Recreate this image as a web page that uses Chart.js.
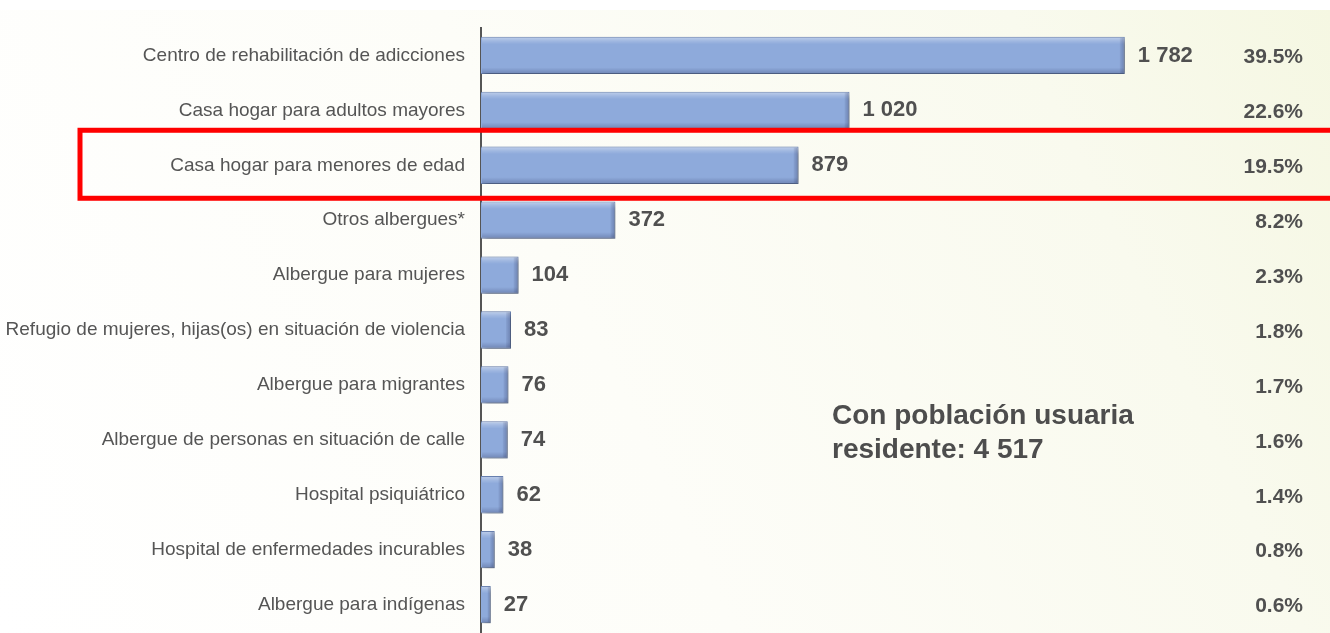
<!DOCTYPE html>
<html>
<head>
<meta charset="utf-8">
<script src="https://cdn.jsdelivr.net/npm/chart.js@4.4.1/dist/chart.umd.min.js"></script>
<style>
  html, body { margin: 0; padding: 0; background: #ffffff; }
  #wrap { position: relative; width: 1330px; height: 633px; }
</style>
</head>
<body>
<div id="wrap"><canvas id="c" width="1330" height="633"></canvas></div>
<script>
const categories = [
  "Centro de rehabilitación de adicciones",
  "Casa hogar para adultos mayores",
  "Casa hogar para menores de edad",
  "Otros albergues*",
  "Albergue para mujeres",
  "Refugio de mujeres, hijas(os) en situación de violencia",
  "Albergue para migrantes",
  "Albergue de personas en situación de calle",
  "Hospital psiquiátrico",
  "Hospital de enfermedades incurables",
  "Albergue para indígenas"
];
const values = [1782, 1020, 879, 372, 104, 83, 76, 74, 62, 38, 27];
const percentLabels = ["39.5%", "22.6%", "19.5%", "8.2%", "2.3%", "1.8%", "1.7%", "1.6%", "1.4%", "0.8%", "0.6%"];
const noteLines = ["Con población usuaria", "residente: 4 517"];
const highlightIndex = 2;

const FONT = "'Liberation Sans', Arial, Helvetica, sans-serif";

function fmt(n) {
  return String(n).replace(/\B(?=(\d{3})+(?!\d))/g, " ");
}

const bgPlugin = {
  id: 'bg',
  beforeDraw(chart) {
    const ctx = chart.ctx;
    const w = chart.width, h = chart.height;
    ctx.save();
    ctx.fillStyle = '#ffffff';
    ctx.fillRect(0, 0, w, h);
    const g = ctx.createLinearGradient(0, h, w, 0);
    g.addColorStop(0, '#ffffff');
    g.addColorStop(0.45, '#fdfdf8');
    g.addColorStop(0.8, '#f9faee');
    g.addColorStop(1, '#f5f7e2');
    ctx.fillStyle = g;
    ctx.fillRect(0, 10, w, h - 10);
    ctx.restore();
  }
};

const shadowPlugin = {
  id: 'barShadow',
  beforeDatasetDraw(chart) {
    const ctx = chart.ctx;
    ctx.save();
    ctx.shadowColor = 'rgba(0,0,0,0.35)';
    ctx.shadowOffsetX = 3;
    ctx.shadowOffsetY = 3;
    ctx.shadowBlur = 5;
  },
  afterDatasetDraw(chart) {
    const ctx = chart.ctx;
    ctx.restore();
    const meta = chart.getDatasetMeta(0);
    ctx.save();
    meta.data.forEach((bar) => {
      const left = bar.base, right = bar.x;
      const top = bar.y - bar.height / 2, bot = bar.y + bar.height / 2;
      const w = right - left, h = bot - top;
      if (w <= 0) return;
      const g = ctx.createLinearGradient(0, top, 0, bot);
      g.addColorStop(0, 'rgba(255,255,255,0.45)');
      g.addColorStop(0.12, 'rgba(255,255,255,0.15)');
      g.addColorStop(0.2, 'rgba(255,255,255,0)');
      g.addColorStop(0.82, 'rgba(0,0,40,0)');
      g.addColorStop(1, 'rgba(0,0,40,0.22)');
      ctx.fillStyle = g;
      ctx.fillRect(left + 1, top + 1, w - 2, h - 2);
      const bw = Math.min(5, w / 3);
      const g2 = ctx.createLinearGradient(right - bw, 0, right, 0);
      g2.addColorStop(0, 'rgba(0,0,40,0.05)');
      g2.addColorStop(1, 'rgba(0,0,40,0.25)');
      ctx.fillStyle = g2;
      ctx.fillRect(right - bw, top + 1, bw - 1, h - 2);
    });
    ctx.restore();
  }
};

const labelsPlugin = {
  id: 'labels',
  afterDatasetsDraw(chart) {
    const ctx = chart.ctx;
    const meta = chart.getDatasetMeta(0);
    const ys = chart.scales.y;
    ctx.save();
    ctx.fillStyle = '#505050';
    ctx.textBaseline = 'middle';
    meta.data.forEach((bar, i) => {
      ctx.textAlign = 'left';
      ctx.font = 'bold 22px ' + FONT;
      ctx.fillText(fmt(values[i]), bar.x + 13, bar.y);
      ctx.textAlign = 'right';
      ctx.font = 'bold 21px ' + FONT;
      ctx.fillText(percentLabels[i], 1303, ys.getPixelForValue(i) + 2);
    });
    ctx.textAlign = 'left';
    ctx.font = 'bold 28px ' + FONT;
    ctx.fillStyle = '#4d4d4d';
    ctx.fillText(noteLines[0], 832, ys.getPixelForValue(6) + 31);
    ctx.fillText(noteLines[1], 832, ys.getPixelForValue(7) + 10);
    const cy = ys.getPixelForValue(highlightIndex);
    ctx.strokeStyle = '#ff0000';
    ctx.lineWidth = 5;
    ctx.strokeRect(80, cy - 35, 1290, 68);
    ctx.restore();
  }
};

const ctx = document.getElementById('c').getContext('2d');
new Chart(ctx, {
  type: 'bar',
  data: {
    labels: categories,
    datasets: [{
      data: values,
      backgroundColor: '#8eaadb',
      borderColor: '#6a82b2',
      borderWidth: 1,
      barPercentage: 0.68,
      categoryPercentage: 1.0
    }]
  },
  options: {
    indexAxis: 'y',
    responsive: false,
    animation: false,
    layout: { padding: { top: 28, bottom: 1, left: 0, right: 0 } },
    plugins: {
      legend: { display: false },
      tooltip: { enabled: false }
    },
    scales: {
      x: {
        display: false,
        min: 0,
        max: 2350
      },
      y: {
        afterFit(scale) {
          scale.width = 481;
          scale.paddingTop = 0;
          scale.paddingBottom = 0;
        },
        grid: { display: false, drawTicks: false },
        border: { display: true, color: '#555555', width: 2 },
        ticks: {
          color: '#555555',
          padding: 16,
          font: { family: FONT, size: 19 }
        }
      }
    }
  },
  plugins: [bgPlugin, shadowPlugin, labelsPlugin]
});
</script>
</body>
</html>
